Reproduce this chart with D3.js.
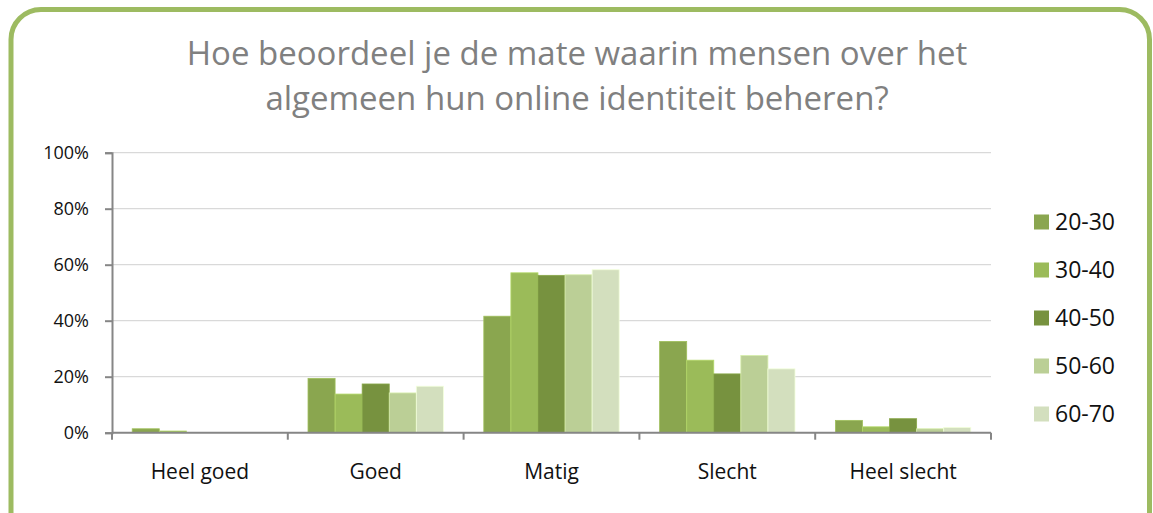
<!DOCTYPE html>
<html>
<head>
<meta charset="utf-8">
<script src="https://cdn.jsdelivr.net/npm/d3@7"></script>
<style>
  html, body { margin: 0; padding: 0; background: #ffffff; }
  svg { display: block; }
</style>
</head>
<body>
<svg id="chart" width="1153" height="513"></svg>
<script>
// Survey results: rating of how people manage their online identity, by age group
const categories = ["Heel goed", "Goed", "Matig", "Slecht", "Heel slecht"];
const ageGroups = ["20-30", "30-40", "40-50", "50-60", "60-70"];
const values2030 = [1.4, 19.4, 41.6, 32.6, 4.4];
const values3040 = [0.6, 13.8, 57.1, 25.9, 2.1];
const values4050 = [0.0, 17.4, 56.2, 21.0, 5.0];
const values5060 = [0.0, 14.2, 56.4, 27.6, 1.4];
const values6070 = [0.0, 16.6, 58.2, 22.8, 1.9];
const yTicks = [0, 20, 40, 60, 80, 100];
const titleLines = ["Hoe beoordeel je de mate waarin mensen over het", "algemeen hun online identiteit beheren?"];

const seriesValues = [values2030, values3040, values4050, values5060, values6070];
const colors = ["#8aa64f", "#9bbb59", "#77923f", "#bbcf96", "#d3dfbe"];
const font = "'Open Sans', 'Noto Sans', sans-serif";

const svg = d3.select("#chart");

// rounded green frame
svg.append("rect")
  .attr("x", 11).attr("y", 9.5)
  .attr("width", 1138.5).attr("height", 540)
  .attr("rx", 30).attr("ry", 30)
  .attr("fill", "#ffffff")
  .attr("stroke", "#9dbb61")
  .attr("stroke-width", 5);

// title
svg.append("text")
  .attr("x", 577).attr("y", 65)
  .attr("text-anchor", "middle")
  .attr("font-family", font)
  .attr("font-size", 33)
  .attr("fill", "#808080")
  .selectAll("tspan")
  .data(titleLines)
  .join("tspan")
  .attr("x", 577)
  .attr("dy", (d, i) => i === 0 ? 0 : 45)
  .text(d => d);

const plotLeft = 112, plotRight = 991, plotTop = 152.7, plotBottom = 432.7;

const x = d3.scaleBand().domain(categories).range([plotLeft, plotRight]).paddingInner(0.23).paddingOuter(0.115);
const xSeries = d3.scaleBand().domain(ageGroups).range([0, x.bandwidth()]);
const y = d3.scaleLinear().domain([0, 100]).range([plotBottom, plotTop]);

// gridlines
svg.append("g")
  .selectAll("line")
  .data(yTicks.filter(t => t > 0))
  .join("line")
  .attr("x1", plotLeft).attr("x2", plotRight)
  .attr("y1", d => y(d)).attr("y2", d => y(d))
  .attr("stroke", "#d9d9d9")
  .attr("stroke-width", 1.2);

// bars
const groups = svg.append("g")
  .selectAll("g")
  .data(categories)
  .join("g")
  .attr("transform", d => `translate(${x(d)},0)`);

groups.selectAll("rect")
  .data((c, ci) => ageGroups.map((g, si) => ({ g, v: seriesValues[si][ci], si })))
  .join("rect")
  .attr("x", d => xSeries(d.g))
  .attr("y", d => y(d.v))
  .attr("width", xSeries.bandwidth())
  .attr("height", d => plotBottom - y(d.v))
  .attr("fill", d => colors[d.si])
  .attr("stroke", d => d3.color(colors[d.si]).brighter(0.4))
  .attr("stroke-width", d => d.v > 0 ? 0.8 : 0);

// y axis
const yAxis = svg.append("g")
  .attr("transform", `translate(${plotLeft},0)`)
  .call(d3.axisLeft(y).tickValues(yTicks).tickFormat(d => d + "%").tickSize(7).tickPadding(16));
yAxis.select(".domain").attr("stroke", "#868686").attr("stroke-width", 2);
yAxis.selectAll(".tick line").attr("stroke", "#868686").attr("stroke-width", 2);
yAxis.selectAll(".tick text")
  .attr("font-family", font).attr("font-size", 18).attr("fill", "#111111");

// x axis with ticks at category boundaries
const step = (plotRight - plotLeft) / categories.length;
const xAxis = svg.append("g").attr("transform", `translate(0,${plotBottom})`);
xAxis.append("line")
  .attr("x1", plotLeft).attr("x2", plotRight)
  .attr("stroke", "#868686").attr("stroke-width", 2);
xAxis.selectAll("line.tick")
  .data(d3.range(categories.length + 1))
  .join("line")
  .attr("class", "tick")
  .attr("x1", i => plotLeft + i * step).attr("x2", i => plotLeft + i * step)
  .attr("y1", 0).attr("y2", 7)
  .attr("stroke", "#868686").attr("stroke-width", 2);
xAxis.selectAll("text")
  .data(categories)
  .join("text")
  .attr("x", d => x(d) + x.bandwidth() / 2)
  .attr("y", 46.5)
  .attr("text-anchor", "middle")
  .attr("font-family", font).attr("font-size", 21).attr("fill", "#111111")
  .text(d => d);

// legend
const legend = svg.append("g")
  .selectAll("g")
  .data(ageGroups)
  .join("g")
  .attr("transform", (d, i) => `translate(1034,${222 + i * 48})`);
legend.append("rect")
  .attr("x", 0).attr("y", -7.5)
  .attr("width", 15).attr("height", 15)
  .attr("fill", (d, i) => colors[i]);
legend.append("text")
  .attr("x", 21).attr("y", 0)
  .attr("dy", "0.35em")
  .attr("font-family", font).attr("font-size", 23).attr("fill", "#111111")
  .text(d => d);
</script>
</body>
</html>
